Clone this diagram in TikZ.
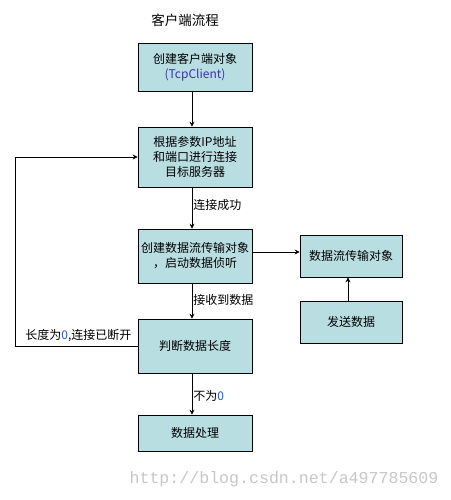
\documentclass[tikz,border=0pt]{standalone}
\usepackage{fontspec}
\usepackage{tikz}
\usetikzlibrary{positioning, arrows.meta}
\setmainfont{Noto Sans CJK SC}
\newfontfamily\urlfont{Liberation Mono}
\definecolor{boxfill}{RGB}{185,222,226}
\definecolor{tcpblue}{RGB}{60,50,170}
\definecolor{zeroblue}{RGB}{20,90,230}

\begin{document}
\begin{tikzpicture}[
  x=1pt, y=-1pt, line width=0.7pt,
  stepbox/.style={draw, fill=boxfill, minimum width=114pt, align=center, inner sep=2pt,
    font=\fontsize{12}{15}\selectfont},
  side/.style={stepbox, minimum width=102pt, minimum height=42pt},
  lbl/.style={font=\fontsize{12}{14}\selectfont, inner sep=1pt},
  arr/.style={-{Stealth[length=5pt, width=5pt]}}
]
\useasboundingbox (0,0) rectangle (450,500);

\node[font=\fontsize{13.5}{16}\selectfont] (title) at (185,20) {客户端流程};

\node[stepbox, minimum height=48pt] (client) at (195,67) {创建客户端对象\\{\color{tcpblue}(TcpClient)}};
\node[stepbox, minimum height=60pt] (conn)   at (195,157) {根据参数IP地址\\和端口进行连接\\目标服务器};
\node[stepbox, minimum height=54pt] (stream) at (195,256) {创建数据流传输对象\\，启动数据侦听};
\node[side] (obj)  at (351,256) {数据流传输对象};
\node[side] (send) at (351,322) {发送数据};
\node[stepbox, minimum height=54pt] (judge) at (195,346) {判断数据长度};
\node[stepbox, minimum height=36pt] (proc)  at (195,433) {数据处理};

\draw[arr] ([xshift=-3pt]client.south) -- ([xshift=-3pt]conn.north);
\draw[arr] ([xshift=-3pt]conn.south) -- ([xshift=-3pt]stream.north);
\draw[arr] ([xshift=-3pt]stream.south) -- ([xshift=-3pt]judge.north);
\draw[arr] ([xshift=-3pt]judge.south) -- ([xshift=-3pt]proc.north);
\coordinate (sx) at ([yshift=4pt]stream.east);
\draw[arr] (sx) -- (sx -| obj.west);
\draw[arr] ([xshift=-3pt]send.north) -- ([xshift=-3pt]obj.south);

\coordinate (lb) at (15.7,346);
\coordinate (lt) at (15.7,157);
\draw[arr] (judge.west) -- (lb) -- (lt) -- (conn.west);

\node[lbl, anchor=west] (ok)   at (192,205) {连接成功};
\node[lbl, anchor=west] (recv) at (192,300) {接收到数据};
\node[lbl, anchor=west] (nz)   at (192,396) {不为{\color{zeroblue}0}};
\node[lbl, anchor=west] (zero) at (24,336) {长度为{\color{zeroblue}0},连接已断开};

\node[font=\urlfont\fontsize{16.6}{18}\selectfont, text=black!22] (url) at (284,479) {http://blog.csdn.net/a497785609};
\end{tikzpicture}
\end{document}
